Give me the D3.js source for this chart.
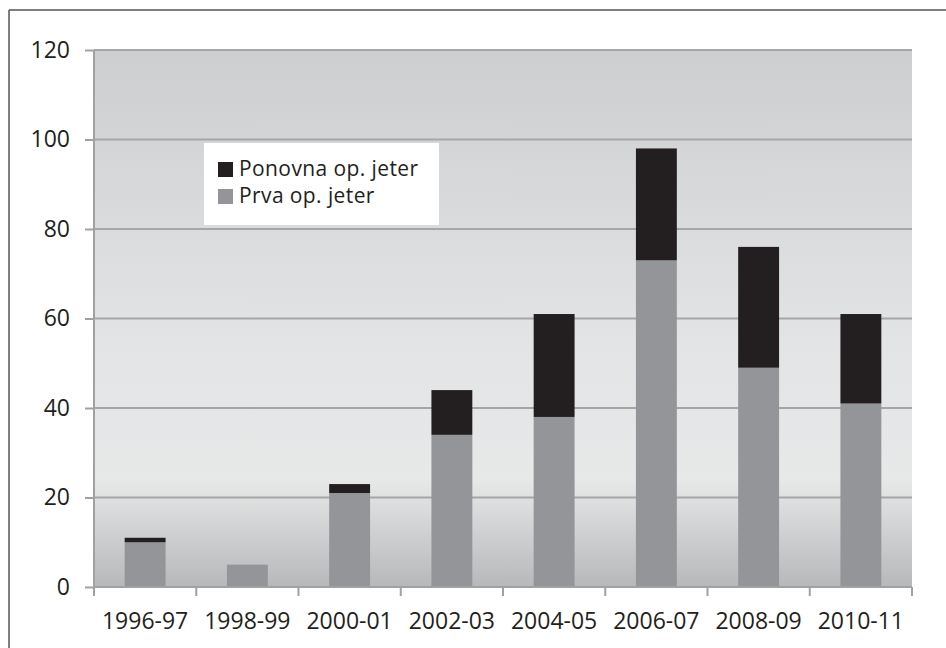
<!DOCTYPE html>
<html>
<head>
<meta charset="utf-8">
<script src="https://cdn.jsdelivr.net/npm/d3@7"></script>
<style>
  body { margin: 0; background: #fff; }
  text { font-family: "Open Sans", sans-serif; fill: #231f20; }
</style>
</head>
<body>
<div id="chart"></div>
<script>
// data
var seasons = ["1996-97", "1998-99", "2000-01", "2002-03", "2004-05", "2006-07", "2008-09", "2010-11"];
var prva = [10, 5, 21, 34, 38, 73, 49, 41];
var ponovna = [1, 0, 2, 10, 23, 25, 27, 20];
var yTicks = [0, 20, 40, 60, 80, 100, 120];
var seriesNames = ["Ponovna op. jeter", "Prva op. jeter"];
var seriesColors = ["#231f20", "#939598"];

var svgWidth = 946;
var svgHeight = 648;
var margin = {top: 50, right: 34, bottom: 61, left: 94};
var width = svgWidth - margin.left - margin.right;
var height = svgHeight - margin.top - margin.bottom;

var root = d3.select("#chart")
  .append("svg")
  .attr("width", svgWidth)
  .attr("height", svgHeight);

// frame (only left and top edges show)
root.append("line").attr("x1", 9).attr("x2", 9).attr("y1", 10).attr("y2", svgHeight)
  .attr("stroke", "#555").attr("stroke-width", 1.5);
root.append("line").attr("x1", 9).attr("x2", svgWidth).attr("y1", 10).attr("y2", 10)
  .attr("stroke", "#555").attr("stroke-width", 1.5);

var defs = root.append("defs");
var grad = defs.append("linearGradient").attr("id", "bg")
  .attr("x1", 0).attr("y1", 0).attr("x2", 0).attr("y2", 1);
grad.append("stop").attr("offset", "0%").attr("stop-color", "#cdced0");
grad.append("stop").attr("offset", "55%").attr("stop-color", "#e3e4e5");
grad.append("stop").attr("offset", "80%").attr("stop-color", "#e7e8e8");
grad.append("stop").attr("offset", "100%").attr("stop-color", "#b7b8ba");

var svg = root.append("g")
  .attr("transform", "translate(" + margin.left + "," + margin.top + ")");

var x = d3.scaleBand()
  .domain(seasons)
  .range([0, width])
  .paddingInner(0.6)
  .paddingOuter(0.3);

var y = d3.scaleLinear()
  .domain([0, 120])
  .range([height, 0]);

svg.append("rect")
  .attr("width", width)
  .attr("height", height)
  .attr("fill", "url(#bg)");

// gridlines
svg.selectAll(".grid")
  .data(yTicks)
  .enter().append("line")
  .attr("x1", 0).attr("x2", width)
  .attr("y1", d => y(d)).attr("y2", d => y(d))
  .attr("stroke", "#a5a6a8")
  .attr("stroke-width", 2);

// stacked bars
var rows = seasons.map(function(s, i) {
  return {season: s, prva: prva[i], ponovna: ponovna[i]};
});
var stack = d3.stack().keys(["prva", "ponovna"]);
var layers = stack(rows);
var colorOf = {prva: "#939598", ponovna: "#231f20"};

svg.selectAll(".layer")
  .data(layers)
  .enter().append("g")
  .attr("fill", d => colorOf[d.key])
  .selectAll("rect")
  .data(d => d)
  .enter().append("rect")
  .attr("x", d => x(d.data.season))
  .attr("width", x.bandwidth())
  .attr("y", d => y(d[1]))
  .attr("height", d => y(d[0]) - y(d[1]));

// axes
var leftAxis = d3.axisLeft(y).tickValues(yTicks).tickSize(9).tickPadding(15);
var gy = svg.append("g").call(leftAxis);
gy.select(".domain").attr("stroke", "#a0a1a3").attr("stroke-width", 2).attr("d", "M0," + height + "V0");
gy.selectAll(".tick line").attr("stroke", "#a0a1a3").attr("stroke-width", 2);
gy.selectAll(".tick text").style("font-size", "23px").attr("fill", "#231f20");

var edges = d3.range(seasons.length + 1).map(i => i * width / seasons.length);
var gx = svg.append("g").attr("transform", "translate(0," + height + ")");
gx.append("line").attr("x1", 0).attr("x2", width).attr("y1", 0).attr("y2", 0)
  .attr("stroke", "#a0a1a3").attr("stroke-width", 2);
gx.selectAll(".xt")
  .data(edges)
  .enter().append("line")
  .attr("x1", d => d).attr("x2", d => d)
  .attr("y1", 0).attr("y2", 9)
  .attr("stroke", "#a0a1a3").attr("stroke-width", 2);
gx.selectAll(".xl")
  .data(seasons)
  .enter().append("text")
  .attr("x", d => x(d) + x.bandwidth() / 2)
  .attr("y", 42)
  .attr("text-anchor", "middle")
  .style("font-size", "23px")
  .text(d => d);

// legend
var legend = svg.append("g").attr("transform", "translate(110,93)");
legend.append("rect").attr("width", 235).attr("height", 82).attr("fill", "#fff");
seriesNames.forEach(function(name, i) {
  legend.append("rect")
    .attr("x", 14).attr("y", 19 + i * 27)
    .attr("width", 15).attr("height", 15)
    .attr("fill", seriesColors[i]);
  legend.append("text")
    .attr("x", 35).attr("y", 33 + i * 27)
    .style("font-size", "21px")
    .style("letter-spacing", "0.4px")
    .text(name);
});
</script>
</body>
</html>
